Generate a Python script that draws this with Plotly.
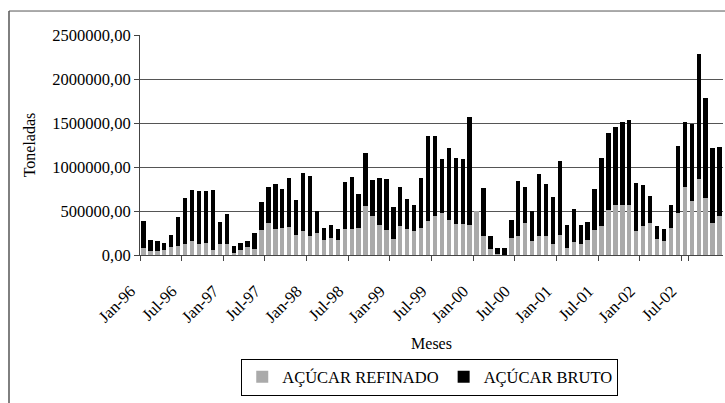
import plotly.graph_objects as go

years = ["96", "97", "98", "99", "00", "01", "02"]
month_names = ["Jan", "Feb", "Mar", "Apr", "May", "Jun", "Jul", "Aug", "Sep", "Oct", "Nov", "Dec"]
months = [f"{m}-{y}" for y in years for m in month_names]

# Açúcar refinado (toneladas)
refinado = [
    84000, 50000, 46000, 57000, 92000, 103000, 130000, 164000, 126000, 137000, 61000, 126000,
    126000, 19000, 57000, 92000, 69000, 279000, 363000, 294000, 309000, 318000, 224000, 277000,
    220000, 247000, 175000, 194000, 171000, 292000, 292000, 304000, 558000, 440000, 338000, 289000,
    178000, 327000, 300000, 277000, 304000, 384000, 446000, 473000, 397000, 355000, 347000, 336000,
    505000, 218000, 73000, 11000, 0, 198000, 214000, 359000, 164000, 218000, 221000, 130000,
    233000, 84000, 153000, 126000, 168000, 286000, 332000, 514000, 564000, 572000, 568000, 274000,
    332000, 362000, 183000, 164000, 309000, 476000, 774000, 614000, 869000, 644000, 362000, 442000,
]

total = [
    382000, 172000, 164000, 134000, 229000, 431000, 653000, 737000, 725000, 725000, 740000, 378000,
    462000, 99000, 141000, 160000, 248000, 607000, 775000, 809000, 750000, 878000, 630000, 934000,
    900000, 501000, 304000, 346000, 296000, 828000, 885000, 695000, 1158000, 854000, 873000, 862000,
    547000, 775000, 642000, 570000, 877000, 1348000, 1348000, 1092000, 1218000, 1099000, 1092000, 1573000,
    505000, 760000, 218000, 84000, 84000, 401000, 840000, 771000, 496000, 916000, 809000, 657000,
    1065000, 344000, 528000, 345000, 370000, 751000, 1105000, 1383000, 1452000, 1509000, 1536000, 823000,
    793000, 671000, 335000, 293000, 572000, 1239000, 1509000, 1494000, 2279000, 1780000, 1220000, 1227000,
]

bruto = [t - r for t, r in zip(total, refinado)]

tick_months = months[::6]
tick_text = [m for m in tick_months]

serif = "Liberation Serif"

fig = go.Figure()
fig.add_trace(go.Bar(x=months, y=refinado, name="AÇÚCAR REFINADO",
                     marker=dict(color="#aaaaaa", line=dict(width=0))))
fig.add_trace(go.Bar(x=months, y=bruto, name="AÇÚCAR BRUTO",
                     marker=dict(color="#000000", line=dict(width=0))))

fig.update_layout(
    width=725, height=403,
    barmode="stack", bargap=0.37,
    paper_bgcolor="white", plot_bgcolor="white",
    margin=dict(l=140, r=2, t=35, b=148, autoexpand=False),
    separators=",.",
    font=dict(family=serif, size=16, color="black"),
    showlegend=True,
    legend=dict(orientation="h", x=0.497, xanchor="center", y=-0.555, yanchor="middle",
                bordercolor="black", borderwidth=1, bgcolor="white",
                font=dict(family=serif, size=16.5, color="black"),
                itemwidth=30, traceorder="normal"),
    xaxis=dict(
        type="category", tickson="boundaries", automargin=False,
        tickmode="array", tickvals=tick_months, ticktext=tick_text,
        tickangle=-45, ticks="outside", ticklen=5, tickcolor="#444",
        ticklabelstandoff=19, ticklabelshift=-13,
        showline=True, linecolor="#444", linewidth=1, showgrid=False,
        title=dict(text="Meses", font=dict(family=serif, size=16), standoff=12),
        tickfont=dict(family=serif, size=16.5),
    ),
    yaxis=dict(
        range=[0, 2500000], dtick=500000, tickformat=".2f", automargin=False,
        ticks="outside", ticklen=5, tickcolor="#444",
        showline=True, linecolor="#444", linewidth=1,
        showgrid=True, gridcolor="#555", gridwidth=1, zeroline=False,
        title=dict(text="Toneladas", font=dict(family=serif, size=16), standoff=12),
        tickfont=dict(family=serif, size=16.5),
    ),
    shapes=[
        dict(type="line", xref="paper", yref="paper", x0=-0.2247, x1=1.01, y0=1.109, y1=1.109,
             line=dict(color="#555", width=1)),
        dict(type="line", xref="paper", yref="paper", x0=-0.2247, x1=-0.2247, y0=1.109, y1=-0.7,
             line=dict(color="#555", width=1.5)),
    ],
)

fig.write_html("out.html", config={"displayModeBar": False},
               post_script="document.body.style.margin='0px';")
